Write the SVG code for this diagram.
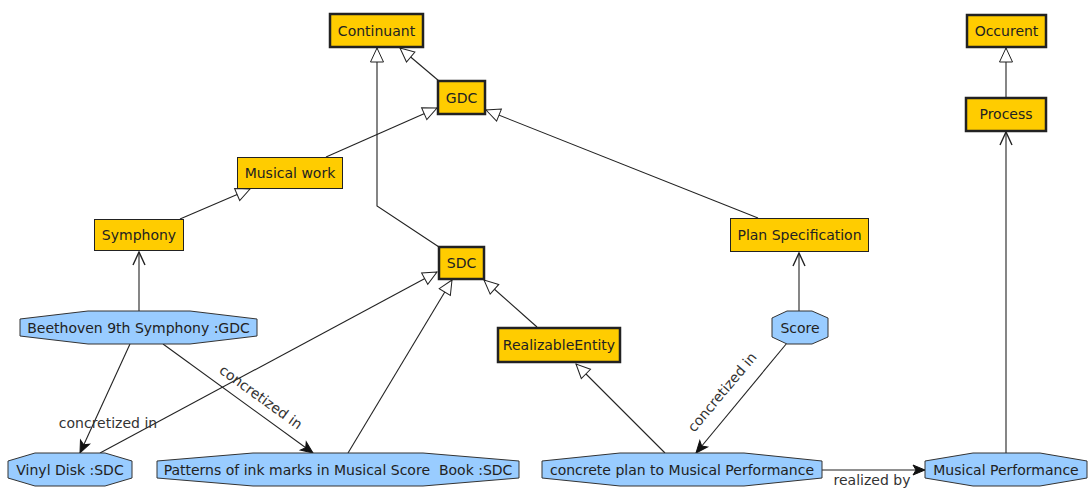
<svg xmlns="http://www.w3.org/2000/svg" width="1090" height="489" viewBox="0 0 1090 489">
<style>
text{font-family:"DejaVu Sans","Liberation Sans",sans-serif;font-size:14px;fill:#222;text-anchor:middle}
.cls{fill:#ffcc00;stroke:#222;stroke-width:1}
.cls.thick{stroke-width:2.5}
.ind{fill:#99ccff;stroke:#333;stroke-width:1}
.e{fill:none;stroke:#222;stroke-width:1.1}
.gen{marker-end:url(#tri)}
.inst{marker-end:url(#vee)}
.rel{marker-end:url(#arr)}
.lbl{fill:#333}
</style>
<defs>
<marker id="tri" markerUnits="userSpaceOnUse" viewBox="-15 -8 16 16" refX="0" refY="0" markerWidth="16" markerHeight="16" orient="auto">
<path d="M0,0 L-14,-6.5 L-14,6.5 Z" fill="#fff" stroke="#222" stroke-width="1"/>
</marker>
<marker id="vee" markerUnits="userSpaceOnUse" viewBox="-15 -8 16 16" refX="0" refY="0" markerWidth="16" markerHeight="16" orient="auto">
<path d="M-13,-6 L0,0 L-13,6" fill="none" stroke="#222" stroke-width="1.4"/>
</marker>
<marker id="arr" markerUnits="userSpaceOnUse" viewBox="-15 -8 16 16" refX="0" refY="0" markerWidth="16" markerHeight="16" orient="auto">
<path d="M0,0 L-12,-5 L-9,0 L-12,5 Z" fill="#111" stroke="#111" stroke-width="1"/>
</marker>
</defs>
<rect width="1090" height="489" fill="#fff"/>
<g id="edges">
<path class="e gen" d="M439,81 L400,48"/>
<path class="e gen" d="M439,247 L377,206 L377,48"/>
<path class="e gen" d="M326,157 L437,108"/>
<path class="e gen" d="M758,218 L486,110"/>
<path class="e gen" d="M180,219 L250,189"/>
<path class="e inst" d="M139,311 L139,252"/>
<path class="e rel" d="M130,344 L80,453"/>
<path class="e rel" d="M163,344 L313,453"/>
<path class="e gen" d="M100,453 L437,272"/>
<path class="e gen" d="M348,453 L452,280"/>
<path class="e gen" d="M537,327 L484,280"/>
<path class="e gen" d="M665,453 L576,364"/>
<path class="e rel" d="M787,343 L696,453"/>
<path class="e rel" d="M822,470 L925,470"/>
<path class="e inst" d="M799,311 L799,253"/>
<path class="e inst" d="M1006,453 L1006,132"/>
<path class="e gen" d="M1006,97 L1006,48"/>
<text class="lbl" x="108" y="428">concretized in</text>
<text class="lbl" x="261" y="397" dominant-baseline="central" transform="rotate(36 261 397)">concretized in</text>
<text class="lbl" x="722" y="392" dominant-baseline="central" transform="rotate(-50 722 392)">concretized in</text>
<text class="lbl" x="872" y="485">realized by</text>
</g>
<g id="continuant"><rect class="cls thick" x="330" y="14" width="93" height="33"/><text x="376.5" y="35.5">Continuant</text></g>
<g id="gdc"><rect class="cls thick" x="438" y="81" width="47" height="33"/><text x="461.5" y="102.5">GDC</text></g>
<g id="musical-work"><rect class="cls" x="237.5" y="157.5" width="105" height="31"/><text x="290" y="178">Musical work</text></g>
<g id="symphony"><rect class="cls" x="94.5" y="219.5" width="89" height="31"/><text x="139" y="240">Symphony</text></g>
<g id="sdc"><rect class="cls thick" x="439" y="247" width="45" height="32"/><text x="461.5" y="268">SDC</text></g>
<g id="realizable-entity"><rect class="cls thick" x="498" y="328" width="122" height="34"/><text x="559" y="350">RealizableEntity</text></g>
<g id="plan-specification"><rect class="cls" x="730.5" y="218.5" width="138" height="33"/><text x="799.5" y="240">Plan Specification</text></g>
<g id="occurent"><rect class="cls thick" x="967" y="15" width="79" height="32"/><text x="1006.5" y="36">Occurent</text></g>
<g id="process"><rect class="cls thick" x="966" y="98" width="80" height="33"/><text x="1006" y="119">Process</text></g>
<g id="beethoven"><polygon class="ind" points="88,311 190,311 257,319 257,336 190,344 88,344 20,336 20,319"/><text x="138.5" y="332.5">Beethoven 9th Symphony :GDC</text></g>
<g id="vinyl-disk"><polygon class="ind" points="35,453 105,453 132,461 132,478 105,486 35,486 8,478 8,461"/><text x="70" y="474.5">Vinyl Disk :SDC</text></g>
<g id="patterns"><polygon class="ind" points="253,453 423,453 519,461 519,478 423,486 253,486 157,478 157,461"/><text x="338" y="474.5" xml:space="preserve">Patterns of ink marks in Musical Score  Book :SDC</text></g>
<g id="concrete-plan"><polygon class="ind" points="620,453 744,453 822,461 822,478 744,486 620,486 542,478 542,461"/><text x="682" y="474.5">concrete plan to Musical Performance</text></g>
<g id="musical-performance"><polygon class="ind" points="973,453 1040,453 1087,461 1087,478 1040,486 973,486 925,478 925,461"/><text x="1006" y="474.5">Musical Performance</text></g>
<g id="score"><polygon class="ind" points="787,311 812,311 828,318 828,337 812,344 787,344 772,337 772,318"/><text x="800" y="332.5">Score</text></g>
</svg>
